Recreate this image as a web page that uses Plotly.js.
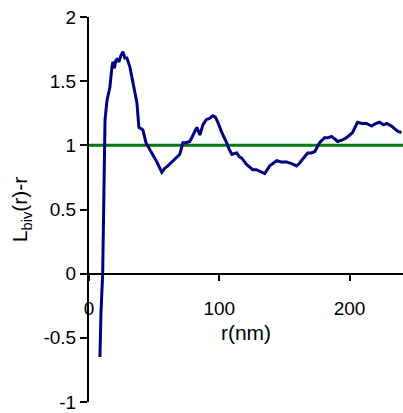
<!DOCTYPE html>
<html>
<head>
<meta charset="utf-8">
<script src="https://cdn.plot.ly/plotly-3.0.1.min.js"></script>
<style>html,body{margin:0;padding:0;background:#fff;}#chart{width:403px;height:413px;}</style>
</head>
<body>
<div id="chart"></div>
<script>
// r (nm) of the measured curve
const rValues = [8.4, 9.2, 10.5, 11.0, 11.5, 12.3, 13.8, 14.6, 16.0, 17.6,
  18.4, 19.5, 20.5, 21.5, 23.0, 24.5, 26.1, 27.5, 29.1, 31.4,
  33.7, 36.8, 38.3, 39.5, 41.4, 43.7, 46.7, 49.5, 52.1, 55.9,
  58.0, 60.5, 62.5, 64.4, 67.0, 69.7, 72.0, 74.5, 77.4, 80.0,
  82.8, 85.1, 87.4, 90.0, 92.5, 95.0, 97.0, 98.9, 101.9, 105.7,
  107.5, 109.6, 113.4, 115.5, 117.2, 121.1, 123.0, 125.7, 128.5, 131.0,
  133.0, 134.9, 138.7, 141.0, 144.1, 147.5, 151.7, 155.0, 159.4, 161.5,
  164.0, 167.8, 170.5, 173.2, 177.0, 180.8, 183.5, 186.2, 188.5, 190.8,
  194.0, 197.7, 202.3, 206.1, 209.5, 213.0, 216.9, 220.0, 223.0, 226.0,
  228.4, 232.2, 234.5, 236.8, 239.8];
// L_biv(r) - r
const lValues = [-0.65, -0.30, 0.00, 0.45, 0.95, 1.20, 1.35, 1.38, 1.45, 1.61,
  1.65, 1.60, 1.66, 1.67, 1.65, 1.70, 1.73, 1.68, 1.68, 1.61,
  1.49, 1.33, 1.14, 1.13, 1.12, 1.02, 0.97, 0.92, 0.87, 0.79,
  0.82, 0.84, 0.86, 0.88, 0.90, 0.93, 1.02, 1.02, 1.03, 1.08,
  1.14, 1.08, 1.16, 1.20, 1.21, 1.23, 1.22, 1.18, 1.10, 1.02,
  0.97, 0.93, 0.94, 0.91, 0.90, 0.85, 0.83, 0.81, 0.81, 0.80,
  0.79, 0.78, 0.84, 0.86, 0.88, 0.87, 0.87, 0.86, 0.84, 0.86,
  0.89, 0.94, 0.94, 0.95, 1.02, 1.06, 1.06, 1.07, 1.05, 1.03,
  1.04, 1.06, 1.10, 1.18, 1.17, 1.17, 1.15, 1.17, 1.18, 1.16,
  1.17, 1.15, 1.13, 1.11, 1.10];
// reference level line
const refR = [0, 241];
const refL = [1, 1];
// tick labels
const xTickVals = [0, 100, 200];
const yTickVals = [-1, -0.5, 0, 0.5, 1, 1.5, 2];
const yTickText = ['-1', '-0.5', '0', '0.5', '1', '1.5', '2'];

const FONT = 'Liberation Sans, Arial, sans-serif';

const traces = [
  {x: refR, y: refL, type: 'scatter', mode: 'lines',
   line: {color: 'rgb(0,120,20)', width: 3}, hoverinfo: 'skip'},
  {x: rValues, y: lValues, type: 'scatter', mode: 'lines',
   line: {color: 'rgb(0,0,128)', width: 3}}
];

const layout = {
  width: 403, height: 413,
  margin: {l: 89, r: 0, t: 17, b: 11, pad: 0},
  showlegend: false,
  paper_bgcolor: '#fff', plot_bgcolor: '#fff',
  font: {family: FONT, size: 19, color: '#000'},
  xaxis: {
    range: [0, 241], anchor: 'free', position: 1/3,
    showline: true, linecolor: '#000', linewidth: 2,
    ticks: 'outside', ticklen: 6, tickwidth: 2, tickcolor: '#000',
    ticklabelstandoff: 12,
    tickvals: xTickVals, showgrid: false, zeroline: false,
    tickfont: {family: FONT, size: 19, color: '#000'},
    title: {text: 'r(nm)', font: {family: FONT, size: 21, color: '#000'}, standoff: 6}
  },
  yaxis: {
    range: [-1, 2],
    showline: true, linecolor: '#000', linewidth: 2,
    ticks: 'outside', ticklen: 7, tickwidth: 2, tickcolor: '#000',
    ticklabeloverflow: 'allow',
    tickvals: yTickVals, ticktext: yTickText,
    showgrid: false, zeroline: false,
    tickfont: {family: FONT, size: 19, color: '#000'},
    title: {text: 'L<sub>biv</sub>(r)-r', font: {family: FONT, size: 21, color: '#000'}, standoff: 10}
  }
};

Plotly.newPlot('chart', traces, layout, {staticPlot: true, displayModeBar: false});
</script>
</body>
</html>
